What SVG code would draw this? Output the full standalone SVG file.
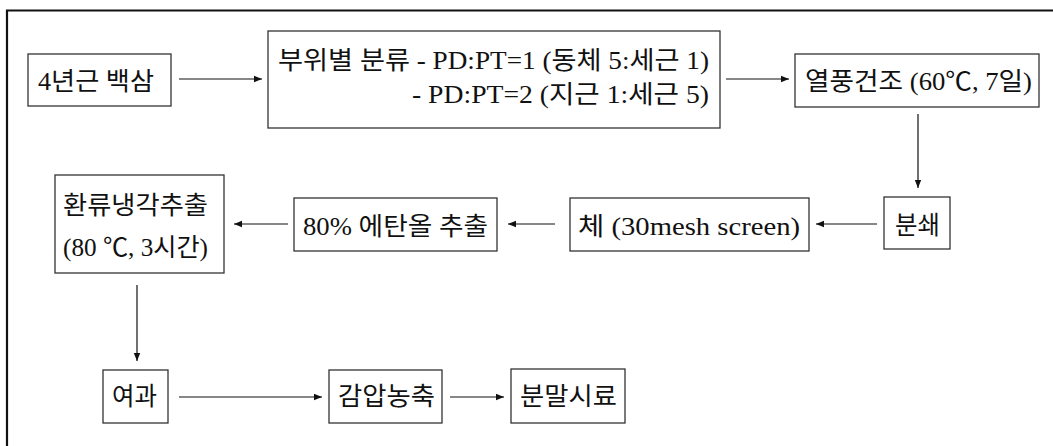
<svg xmlns="http://www.w3.org/2000/svg" width="1053" height="446" viewBox="0 0 1053 446">
<style>
.box{fill:#fff;stroke:#333;stroke-width:1.3}
.t{font-family:"Liberation Serif","Noto Sans CJK KR",serif;font-size:25px;fill:#111}
.c{stroke:#111;stroke-width:1.2;fill:none;marker-end:url(#ah)}
</style>
<defs>
<marker id="ah" viewBox="0 0 10 10" refX="10" refY="5" markerWidth="8" markerHeight="8" markerUnits="userSpaceOnUse" orient="auto">
<path d="M0,1 L10,5 L0,9 Z" fill="#111"/>
</marker>
</defs>
<rect width="1053" height="446" fill="#fff"/>
<g id="frame">
<path d="M7,446 V10.5 H1053" fill="none" stroke="#111" stroke-width="2.2"/>
</g>
<g id="connectors">
<path class="c" d="M179,79 H262"/>
<path class="c" d="M726,79 H789"/>
<path class="c" d="M918,114 V188"/>
<path class="c" d="M877,224 H816"/>
<path class="c" d="M555,224 H508"/>
<path class="c" d="M288,224 H234"/>
<path class="c" d="M137,285 V361"/>
<path class="c" d="M179,397 H322"/>
<path class="c" d="M450,397 H504"/>
</g>
<g id="n1"><rect class="box" x="28" y="54" width="143" height="52"/><text class="t" x="38" y="90" textLength="116" lengthAdjust="spacingAndGlyphs">4년근 백삼</text></g>
<g id="n2"><rect class="box" x="268" y="31" width="452" height="97"/>
<text class="t" x="278" y="69" textLength="431" lengthAdjust="spacingAndGlyphs">부위별 분류 - PD:PT=1 (동체 5:세근 1)</text>
<text class="t" x="412" y="103" textLength="297" lengthAdjust="spacingAndGlyphs">- PD:PT=2 (지근 1:세근 5)</text></g>
<g id="n3"><rect class="box" x="795" y="54" width="244" height="53"/><text class="t" x="805" y="90" textLength="227" lengthAdjust="spacingAndGlyphs">열풍건조 (60℃, 7일)</text></g>
<g id="n4"><rect class="box" x="884" y="197" width="66" height="52"/><text class="t" x="895" y="234" textLength="45" lengthAdjust="spacingAndGlyphs">분쇄</text></g>
<g id="n5"><rect class="box" x="570" y="198" width="239" height="53"/><text class="t" x="578" y="235" textLength="222" lengthAdjust="spacingAndGlyphs">체 (30mesh screen)</text></g>
<g id="n6"><rect class="box" x="294" y="198" width="203" height="53"/><text class="t" x="303" y="235" textLength="185" lengthAdjust="spacingAndGlyphs">80% 에탄올 추출</text></g>
<g id="n7"><rect class="box" x="55" y="175" width="169" height="98"/>
<text class="t" x="63" y="214" textLength="145" lengthAdjust="spacingAndGlyphs">환류냉각추출</text>
<text class="t" x="63" y="256" textLength="145" lengthAdjust="spacingAndGlyphs">(80 ℃, 3시간)</text></g>
<g id="n8"><rect class="box" x="103" y="370" width="65" height="53"/><text class="t" x="112" y="405" textLength="45" lengthAdjust="spacingAndGlyphs">여과</text></g>
<g id="n9"><rect class="box" x="329" y="370" width="113" height="53"/><text class="t" x="338" y="405" textLength="97" lengthAdjust="spacingAndGlyphs">감압농축</text></g>
<g id="n10"><rect class="box" x="511" y="369" width="114" height="54"/><text class="t" x="520" y="405" textLength="97" lengthAdjust="spacingAndGlyphs">분말시료</text></g>
</svg>
